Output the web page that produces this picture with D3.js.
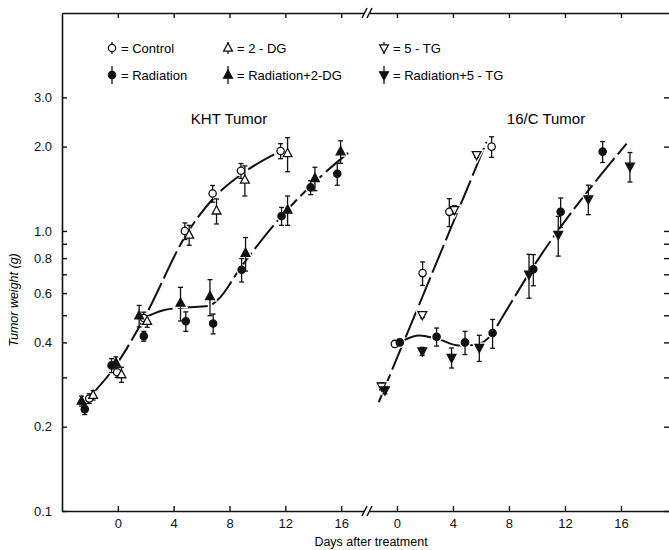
<!DOCTYPE html>
<html>
<head>
<meta charset="utf-8">
<script src="https://cdn.jsdelivr.net/npm/d3@7"></script>
<style>
  body { margin: 0; background: #fff; }
  svg { display: block; font-family: "Liberation Sans", Arial, sans-serif; }
</style>
</head>
<body>
<div id="chart"></div>
<script>

/* - - - DATA (days after treatment, tumor weight in g, error in g) - - - */

// KHT tumor
var khtControlDays = [-2.05, -0.05, 1.86, 4.8, 6.79, 8.82, 11.66];
var khtControlWeight = [0.252, 0.313, 0.489, 1.0, 1.36, 1.64, 1.93];
var khtControlErr = [0.01, 0.013, 0.024, 0.068, 0.093, 0.1, 0.119];

var khtDgDays = [-1.77, 0.26, 2.1, 5.11, 7.07, 9.1, 12.16];
var khtDgWeight = [0.259, 0.307, 0.476, 0.968, 1.18, 1.52, 1.89];
var khtDgErr = [0.01, 0.019, 0.023, 0.079, 0.121, 0.187, 0.263];

var khtRadDays = [-2.37, -0.45, 1.86, 4.87, 6.83, 8.87, 11.73, 13.81, 15.72];
var khtRadWeight = [0.231, 0.331, 0.421, 0.476, 0.467, 0.727, 1.13, 1.43, 1.6];
var khtRadErr = [0.01, 0.019, 0.017, 0.038, 0.038, 0.07, 0.083, 0.082, 0.144];

var khtRadDgDays = [-2.6, -0.14, 1.53, 4.49, 6.6, 9.15, 12.16, 14.12, 15.96];
var khtRadDgWeight = [0.247, 0.338, 0.498, 0.553, 0.584, 0.833, 1.19, 1.54, 1.92];
var khtRadDgErr = [0.01, 0.017, 0.044, 0.076, 0.086, 0.114, 0.143, 0.148, 0.178];

// 16/C tumor
var c16ControlDays = [-0.15, 1.83, 3.74, 6.76];
var c16ControlWeight = [0.395, 0.707, 1.17, 2.0];
var c16ControlErr = [0.01, 0.068, 0.134, 0.169];

var c16TgDays = [-1.1, 1.81, 4.1, 5.69];
var c16TgWeight = [0.279, 0.502, 1.19, 1.87];
var c16TgErr = [0.008, 0.012, 0.04, 0.04];

var c16RadDays = [0.2, 2.83, 4.86, 6.83, 9.74, 11.69, 14.69];
var c16RadWeight = [0.40, 0.419, 0.40, 0.432, 0.73, 1.17, 1.92];
var c16RadErr = [0.01, 0.031, 0.038, 0.051, 0.093, 0.141, 0.165];

var c16RadTgDays = [-0.86, 1.81, 3.9, 5.88, 9.43, 11.52, 13.67, 16.64];
var c16RadTgWeight = [0.270, 0.372, 0.353, 0.383, 0.70, 0.97, 1.30, 1.70];
var c16RadTgErr = [0.008, 0.012, 0.029, 0.041, 0.125, 0.157, 0.157, 0.205];

// hand drawn growth curves (knots)
var khtControlFitDays = [-2.0, -0.2, 1.9, 4.9, 6.8, 8.9, 11.6];
var khtControlFitWeight = [0.256, 0.328, 0.49, 0.97, 1.3, 1.6, 1.92];
var khtRadFitDays = [1.9, 3.2, 4.6, 6.5, 7.2, 8.8, 11.6, 13.7, 16.5];
var khtRadFitWeight = [0.49, 0.52, 0.532, 0.54, 0.57, 0.74, 1.11, 1.43, 1.9];
var c16ControlFitDays = [-1.3, 6.4];
var c16ControlFitWeight = [0.245, 2.08];
var c16RadFitDays = [0.4, 1.6, 3.0, 4.4, 5.6, 6.8, 7.5, 9.7, 16.4];
var c16RadFitWeight = [0.405, 0.423, 0.41, 0.39, 0.392, 0.43, 0.49, 0.74, 2.05];

// axes and legend
var dayTicks = [0, 4, 8, 12, 16];
var weightTicks = [0.1, 0.2, 0.3, 0.4, 0.5, 0.6, 0.7, 0.8, 0.9, 1, 2, 3];
var weightLabels = [0.1, 0.2, 0.4, 0.6, 0.8, 1, 2, 3];
var legendLabels = ["= Control", "= 2 - DG", "= 5 - TG", "= Radiation", "= Radiation+2-DG", "= Radiation+5 - TG"];
var legendShapes = ["circle", "up", "down", "circle", "up", "down"];
var legendFilled = [false, false, false, true, true, true];

/* - - - END DATA - - - */

var width = 669, height = 550;

var svg = d3.select('#chart')
            .append('svg')
            .attr('width', width)
            .attr('height', height);

svg.append('rect').attr('width', width).attr('height', height).attr('fill', '#fff');

var y = d3.scaleLog().domain([0.1, 6]).range([511, 13]);
var xKht = d3.scaleLinear().domain([-4, 17.85]).range([62, 367]);
var x16c = d3.scaleLinear().domain([-2.14, 19.5]).range([367, 670]);

function shapePath(shape) {
	if (shape === 'up') return 'M0,-5L4.4,3.2L-4.4,3.2Z';
	if (shape === 'down') return 'M0,5L4.4,-3.2L-4.4,-3.2Z';
	return d3.symbol(d3.symbolCircle, 42)();
}

var series = [
	{x: xKht, days: khtControlDays, w: khtControlWeight, err: khtControlErr, shape: 'circle', filled: false},
	{x: xKht, days: khtDgDays, w: khtDgWeight, err: khtDgErr, shape: 'up', filled: false},
	{x: xKht, days: khtRadDays, w: khtRadWeight, err: khtRadErr, shape: 'circle', filled: true},
	{x: xKht, days: khtRadDgDays, w: khtRadDgWeight, err: khtRadDgErr, shape: 'up', filled: true},
	{x: x16c, days: c16ControlDays, w: c16ControlWeight, err: c16ControlErr, shape: 'circle', filled: false},
	{x: x16c, days: c16TgDays, w: c16TgWeight, err: c16TgErr, shape: 'down', filled: false},
	{x: x16c, days: c16RadDays, w: c16RadWeight, err: c16RadErr, shape: 'circle', filled: true},
	{x: x16c, days: c16RadTgDays, w: c16RadTgWeight, err: c16RadTgErr, shape: 'down', filled: true}
];

var fits = [
	{x: xKht, days: khtControlFitDays, w: khtControlFitWeight},
	{x: xKht, days: khtRadFitDays, w: khtRadFitWeight},
	{x: x16c, days: c16ControlFitDays, w: c16ControlFitWeight},
	{x: x16c, days: c16RadFitDays, w: c16RadFitWeight}
];

/* - - - Axes - - - */

function styleAxis(g) {
	g.attr('font-family', null).attr('font-size', null);
	g.select('.domain').attr('stroke', '#111').attr('stroke-width', 1.6);
	g.selectAll('.tick line').attr('stroke', '#111').attr('stroke-width', 1.4);
	g.selectAll('.tick text').attr('fill', '#111').style('font-size', '13px');
}

var weightFormat = function (d) {
	return weightLabels.indexOf(d) >= 0 ? d.toFixed(1) : '';
};

svg.append('g').attr('transform', 'translate(62,0)')
   .call(d3.axisLeft(y).tickValues(weightTicks).tickFormat(weightFormat)
           .tickSize(-5).tickSizeOuter(0).tickPadding(10))
   .call(styleAxis);

svg.append('g').attr('transform', 'translate(670,0)')
   .call(d3.axisRight(y).tickValues(weightTicks).tickFormat('')
           .tickSize(-6).tickSizeOuter(0))
   .call(styleAxis);

[xKht, x16c].forEach(function (xs) {
	svg.append('g').attr('transform', 'translate(0,511)')
	   .call(d3.axisBottom(xs).tickValues(dayTicks).tickSize(-5).tickSizeOuter(0).tickPadding(8))
	   .call(styleAxis);
	svg.append('g').attr('transform', 'translate(0,13)')
	   .call(d3.axisTop(xs).tickValues(dayTicks).tickFormat('').tickSize(-5).tickSizeOuter(0))
	   .call(styleAxis);
});

// axis breaks
[13, 511].forEach(function (yy) {
	var bx = xKht.range()[1];
	svg.append('rect').attr('x', bx - 3).attr('y', yy - 2).attr('width', 6).attr('height', 4).attr('fill', '#fff');
	[-2.5, 2.5].forEach(function (o) {
		svg.append('line')
		   .attr('x1', bx + o - 2.5).attr('y1', yy + 5)
		   .attr('x2', bx + o + 2.5).attr('y2', yy - 5)
		   .attr('stroke', '#111').attr('stroke-width', 1.5);
	});
});

svg.append('text')
   .attr('transform', 'translate(18,300) rotate(-90)')
   .attr('text-anchor', 'middle')
   .style('font-size', '12.5px').style('font-style', 'italic')
   .text('Tumor weight (g)');

svg.append('text')
   .attr('x', 371).attr('y', 546)
   .attr('text-anchor', 'middle')
   .style('font-size', '12.5px')
   .text('Days after treatment');

svg.append('text').attr('x', 229).attr('y', 124).attr('text-anchor', 'middle')
   .style('font-size', '15px').text('KHT Tumor');
svg.append('text').attr('x', 546).attr('y', 124).attr('text-anchor', 'middle')
   .style('font-size', '15px').text('16/C Tumor');

/* - - - Curves - - - */

fits.forEach(function (f) {
	var line = d3.line()
	             .x(function (d) { return f.x(d[0]); })
	             .y(function (d) { return y(d[1]); })
	             .curve(d3.curveMonotoneX);
	svg.append('path')
	   .attr('d', line(d3.zip(f.days, f.w)))
	   .attr('fill', 'none')
	   .attr('stroke', '#111')
	   .attr('stroke-width', 2)
	   .attr('stroke-dasharray', '30,5');
});

/* - - - Points - - - */

var pts = [];
series.forEach(function (s) {
	s.days.forEach(function (d, i) {
		pts.push({cx: s.x(d), v: s.w[i], e: s.err[i], shape: s.shape, filled: s.filled});
	});
});

// white halo so the curves break around the symbols
svg.selectAll('path.halo').data(pts).enter().append('path')
   .attr('class', 'halo')
   .attr('d', function (d) { return shapePath(d.shape); })
   .attr('transform', function (d) { return 'translate(' + d.cx + ',' + y(d.v) + ')'; })
   .attr('fill', '#fff').attr('stroke', '#fff').attr('stroke-width', 4);

var bars = svg.selectAll('g.err').data(pts).enter().append('g').attr('class', 'err')
              .attr('stroke', '#111').attr('stroke-width', 1.3);
bars.append('line')
    .attr('x1', function (d) { return d.cx; }).attr('x2', function (d) { return d.cx; })
    .attr('y1', function (d) { return y(d.v - d.e); })
    .attr('y2', function (d) { return y(d.v + d.e); });
[-1, 1].forEach(function (k) {
	bars.append('line')
	    .attr('x1', function (d) { return d.cx - 2.5; }).attr('x2', function (d) { return d.cx + 2.5; })
	    .attr('y1', function (d) { return y(d.v + k * d.e); })
	    .attr('y2', function (d) { return y(d.v + k * d.e); });
});

svg.selectAll('path.mark').data(pts).enter().append('path')
   .attr('class', 'mark')
   .attr('d', function (d) { return shapePath(d.shape); })
   .attr('transform', function (d) { return 'translate(' + d.cx + ',' + y(d.v) + ')'; })
   .attr('fill', function (d) { return d.filled ? '#111' : '#fff'; })
   .attr('stroke', '#111').attr('stroke-width', 1.3);

/* - - - Legend - - - */

var legendX = [112, 228, 384];
var legendY = [48, 75];

legendLabels.forEach(function (label, i) {
	var lx = legendX[i % 3], ly = legendY[Math.floor(i / 3)];
	var half = legendFilled[i] ? 9 : 6;
	svg.append('line')
	   .attr('x1', lx).attr('x2', lx).attr('y1', ly - half).attr('y2', ly + half)
	   .attr('stroke', '#111').attr('stroke-width', 1.3);
	svg.append('path')
	   .attr('d', shapePath(legendShapes[i]))
	   .attr('transform', 'translate(' + lx + ',' + ly + ')')
	   .attr('fill', legendFilled[i] ? '#111' : '#fff')
	   .attr('stroke', '#111').attr('stroke-width', 1.3);
	svg.append('text')
	   .attr('x', lx + 9).attr('y', ly + 4.5)
	   .style('font-size', '13px')
	   .text(label);
});

</script>
</body>
</html>
